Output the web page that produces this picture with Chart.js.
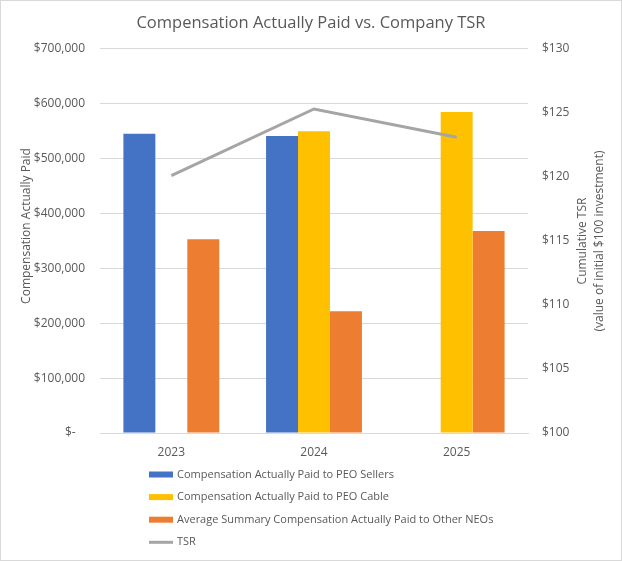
<!DOCTYPE html>
<html>
<head>
<meta charset="utf-8">
<script src="https://cdn.jsdelivr.net/npm/chart.js@4"></script>
<style>
  html, body { margin: 0; padding: 0; background: #fff; }
  #wrap { position: relative; width: 620px; height: 559px; border: 1px solid #d9d9d9; }
</style>
</head>
<body>
<div id="wrap"><canvas id="grafico" width="620" height="559"></canvas></div>
<script>
// dados
const anos = ['2023', '2024', '2025'];
const pagoSellers = [545000, 541000, null];
const pagoCable = [null, 550000, 585000];
const mediaNeos = [353000, 222000, 368000];
const tsr = [120.1, 125.3, 123.1];

const ticksEsq = [0, 100000, 200000, 300000, 400000, 500000, 600000, 700000];
const ticksDir = [100, 105, 110, 115, 120, 125, 130];

const nomes = [
  'Compensation Actually Paid to PEO Sellers',
  'Compensation Actually Paid to PEO Cable',
  'Average Summary Compensation Actually Paid to Other NEOs',
  'TSR'
];
const titulo = 'Compensation Actually Paid vs. Company TSR';
const tituloEsq = 'Compensation Actually Paid';
const tituloDir = ['Cumulative TSR', '(value of initial $100 investment)'];

const fonte = '"Open Sans", sans-serif';
const corTexto = '#595959';
const corGrade = '#d9d9d9';

// desenha os titulos dos eixos e a legenda vertical
const extras = {
  id: 'extras',
  afterDraw(chart) {
    const ctx = chart.ctx;
    ctx.save();
    ctx.fillStyle = corTexto;
    ctx.font = '12px ' + fonte;
    ctx.textAlign = 'center';
    ctx.textBaseline = 'middle';

    ctx.save();
    ctx.translate(26, 225);
    ctx.rotate(-Math.PI / 2);
    ctx.fillText(tituloEsq, 0, 0);
    ctx.restore();

    ctx.save();
    ctx.translate(582, 240);
    ctx.rotate(-Math.PI / 2);
    ctx.fillText(tituloDir[0], 0, 0);
    ctx.fillText(tituloDir[1], 0, 17);
    ctx.restore();

    // legenda
    ctx.textAlign = 'left';
    ctx.font = '11px ' + fonte;
    chart.data.datasets.forEach(function (ds, i) {
      const y = 473.5 + i * 22.6;
      if (ds.type === 'line') {
        ctx.strokeStyle = ds.borderColor;
        ctx.lineWidth = 3;
        ctx.beginPath();
        ctx.moveTo(148, y);
        ctx.lineTo(172, y);
        ctx.stroke();
      } else {
        ctx.fillStyle = ds.backgroundColor;
        ctx.fillRect(148, y - 3, 24, 6);
      }
      ctx.fillStyle = corTexto;
      ctx.fillText(ds.label, 176, y);
    });
    ctx.restore();
  }
};

function dinheiro(v) {
  if (v === 0) return '$-   ';
  return '$' + v.toLocaleString('en-US');
}

const ctx = document.getElementById('grafico').getContext('2d');
const grafico = new Chart(ctx, {
  type: 'bar',
  data: {
    labels: anos,
    datasets: [
      { label: nomes[0], data: pagoSellers, backgroundColor: '#4472C4', yAxisID: 'y' },
      { label: nomes[1], data: pagoCable, backgroundColor: '#FFC000', yAxisID: 'y' },
      { label: nomes[2], data: mediaNeos, backgroundColor: '#ED7D31', yAxisID: 'y' },
      {
        type: 'line', label: nomes[3], data: tsr, yAxisID: 'y1', order: -1,
        borderColor: '#A5A5A5', backgroundColor: '#A5A5A5', borderWidth: 3,
        pointRadius: 0, tension: 0
      }
    ]
  },
  plugins: [extras],
  options: {
    responsive: false,
    animation: false,
    layout: { padding: { top: 0, left: 0, right: 0, bottom: 99 } },
    datasets: { bar: { categoryPercentage: 0.672, barPercentage: 1.0 } },
    plugins: {
      legend: { display: false },
      tooltip: { enabled: false },
      title: {
        display: true,
        text: titulo,
        color: corTexto,
        font: { family: fonte, size: 16.5, weight: 'normal' },
        padding: { top: 12, bottom: 16 }
      }
    },
    scales: {
      x: {
        grid: { display: false },
        border: { color: corGrade, width: 1 },
        ticks: { color: corTexto, font: { family: fonte, size: 12 }, padding: 4 },
        afterFit: function (s) { s.height = 28; }
      },
      y: {
        position: 'left',
        min: 0, max: 700000,
        afterBuildTicks: function (s) { s.ticks = ticksEsq.map(v => ({ value: v })); },
        grid: { color: corGrade, drawTicks: false },
        border: { display: false },
        ticks: { color: corTexto, font: { family: fonte, size: 12 }, padding: 15, callback: dinheiro },
        afterFit: function (s) { s.width = 99; }
      },
      y1: {
        position: 'right',
        min: 100, max: 130,
        afterBuildTicks: function (s) { s.ticks = ticksDir.map(v => ({ value: v })); },
        grid: { display: false, drawTicks: false },
        border: { display: false },
        ticks: { color: corTexto, font: { family: fonte, size: 12 }, padding: 14, callback: v => '$' + v },
        afterFit: function (s) { s.width = 93; }
      }
    }
  }
});
</script>
</body>
</html>
